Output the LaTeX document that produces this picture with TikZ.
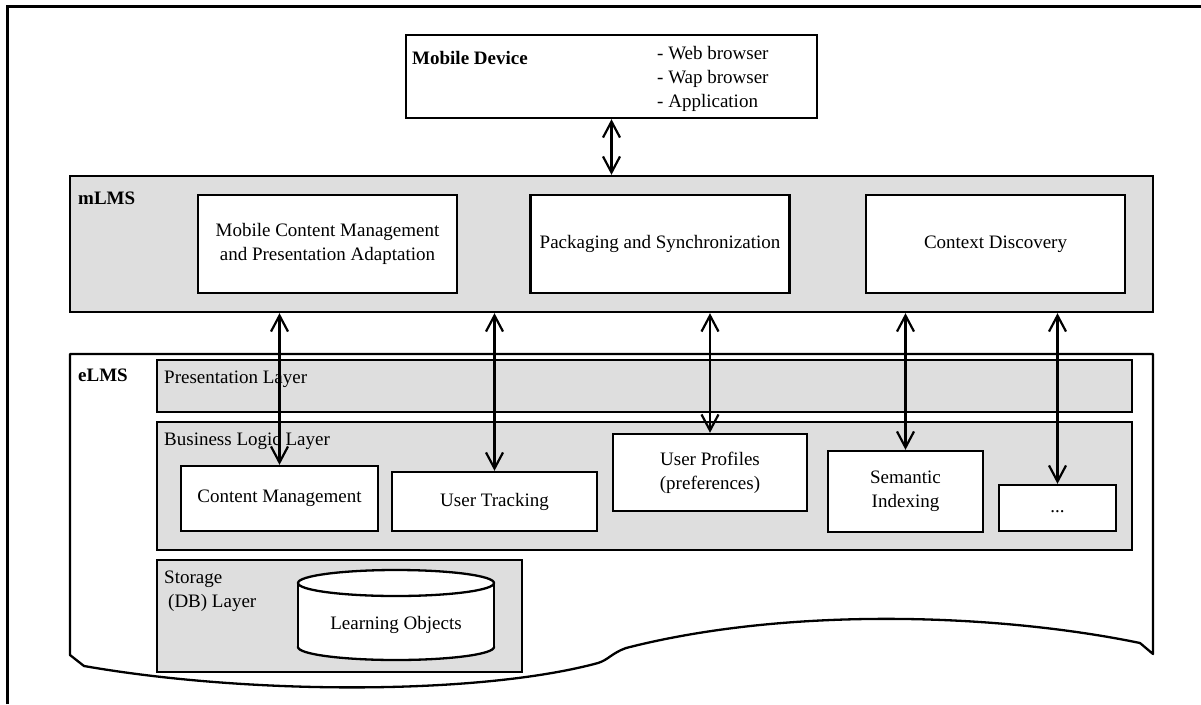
\documentclass[tikz,border=0pt]{standalone}
\usepackage{fontspec}
\setmainfont{Liberation Serif}
\usetikzlibrary{arrows.meta}

\definecolor{layergray}{HTML}{DEDEDE}

\tikzset{
  txt/.style={font=\fontsize{19}{24}\selectfont, inner sep=0pt},
  boldtxt/.style={txt, font=\fontsize{19}{24}\selectfont\bfseries},
  whitebox/.style={draw, line width=2.4pt, fill=white, txt, align=center},
  graybox/.style={draw, line width=2.4pt, fill=layergray},
  link/.style={line width=2.2pt, {Straight Barb[length=16pt,width=17pt]}-{Straight Barb[length=16pt,width=17pt]}},
}

\begin{document}
\begin{tikzpicture}[x=1pt, y=-1pt]
  \useasboundingbox (0,0) rectangle (1201,704);

  % page frame: top and left rules
  \draw[line width=3pt] (7,704) -- (7,6) -- (1201,6);

  % mobile device
  \node[whitebox, minimum width=411pt, minimum height=83pt] (dev) at (611.5,76.5) {};
  \node[boldtxt, anchor=west] (devlabel) at (412,58) {Mobile Device};
  \node[txt, anchor=west, align=left] (devlist) at (657,78.5) {- Web browser\\- Wap browser\\- Application};

  % mLMS layer
  \node[graybox, minimum width=1083pt, minimum height=136pt] (mlms) at (611.5,244) {};
  \node[boldtxt, anchor=west] (mlmslabel) at (78,198) {mLMS};
  \node[whitebox, minimum width=259pt, minimum height=98pt] (mcm) at (327.5,244)
    {Mobile Content Management\\and Presentation Adaptation};
  \node[whitebox, minimum width=259pt, minimum height=98pt] (pack) at (660,244)
    {Packaging and Synchronization};
  \node[whitebox, minimum width=259pt, minimum height=98pt] (ctx) at (995.5,244)
    {Context Discovery};

  % eLMS outline with wavy bottom edge
  \draw[line width=2.3pt, fill=white, line join=round]
    (70,655) -- (70,354) -- (1153,354) -- (1153,654) -- (1140,643)
    .. controls (1000,614) and (790,606) .. (626,648)
    .. controls (612,653) and (608,660) .. (598,663)
    .. controls (480,695) and (250,695) .. (84,666) -- cycle;
  \node[boldtxt, anchor=west] (elmslabel) at (78,375) {eLMS};

  % presentation layer
  \node[graybox, minimum width=975pt, minimum height=52pt] (pres) at (644.5,386) {};
  \node[txt, anchor=west] (preslabel) at (164,379) {Presentation Layer};

  % business logic layer
  \node[graybox, minimum width=975pt, minimum height=128pt] (bll) at (644.5,486) {};
  \node[txt, anchor=west] (blllabel) at (164,441) {Business Logic Layer};
  \node[whitebox, minimum width=197pt, minimum height=65pt] (cm) at (279.5,498.5) {Content Management};
  \node[whitebox, minimum width=205pt, minimum height=59pt] (ut) at (494.5,501.5) {User Tracking};
  \node[whitebox, minimum width=194pt, minimum height=77pt] (up) at (710,472.5) {User Profiles\\(preferences)};
  \node[whitebox, minimum width=155pt, minimum height=81pt] (si) at (905.5,491.5) {Semantic\\Indexing};
  \node[whitebox, minimum width=117pt, minimum height=46pt] (more) at (1057.5,508) {\strut...};

  % storage layer with database cylinder
  \node[graybox, minimum width=365pt, minimum height=112pt] (stor) at (339.5,616) {};
  \node[txt, anchor=north west, align=left] (storlabel) at (164,571) {Storage\\\hspace{4pt}(DB) Layer};
  \draw[line width=2.3pt, fill=white] (396,647) ellipse [x radius=98pt, y radius=13pt];
  \fill[white] (298,583) rectangle (494,647);
  \draw[line width=2.3pt] (298,583) -- (298,647) (494,583) -- (494,647);
  \draw[line width=2.3pt, fill=white] (396,583) ellipse [x radius=98pt, y radius=13pt];
  \node[txt] (lo) at (396,625) {Learning Objects};

  % connectors
  \draw[link] (dev.south) -- (dev.south |- mlms.north);
  \draw[link] (cm.north |- mlms.south) -- (cm.north);
  \draw[link] (ut.north |- mlms.south) -- (ut.north);
  \draw[link] (up.north |- mlms.south) -- (up.north);
  \draw[link] (si.north |- mlms.south) -- (si.north);
  \draw[link] (more.north |- mlms.south) -- (more.north);
\end{tikzpicture}
\end{document}
